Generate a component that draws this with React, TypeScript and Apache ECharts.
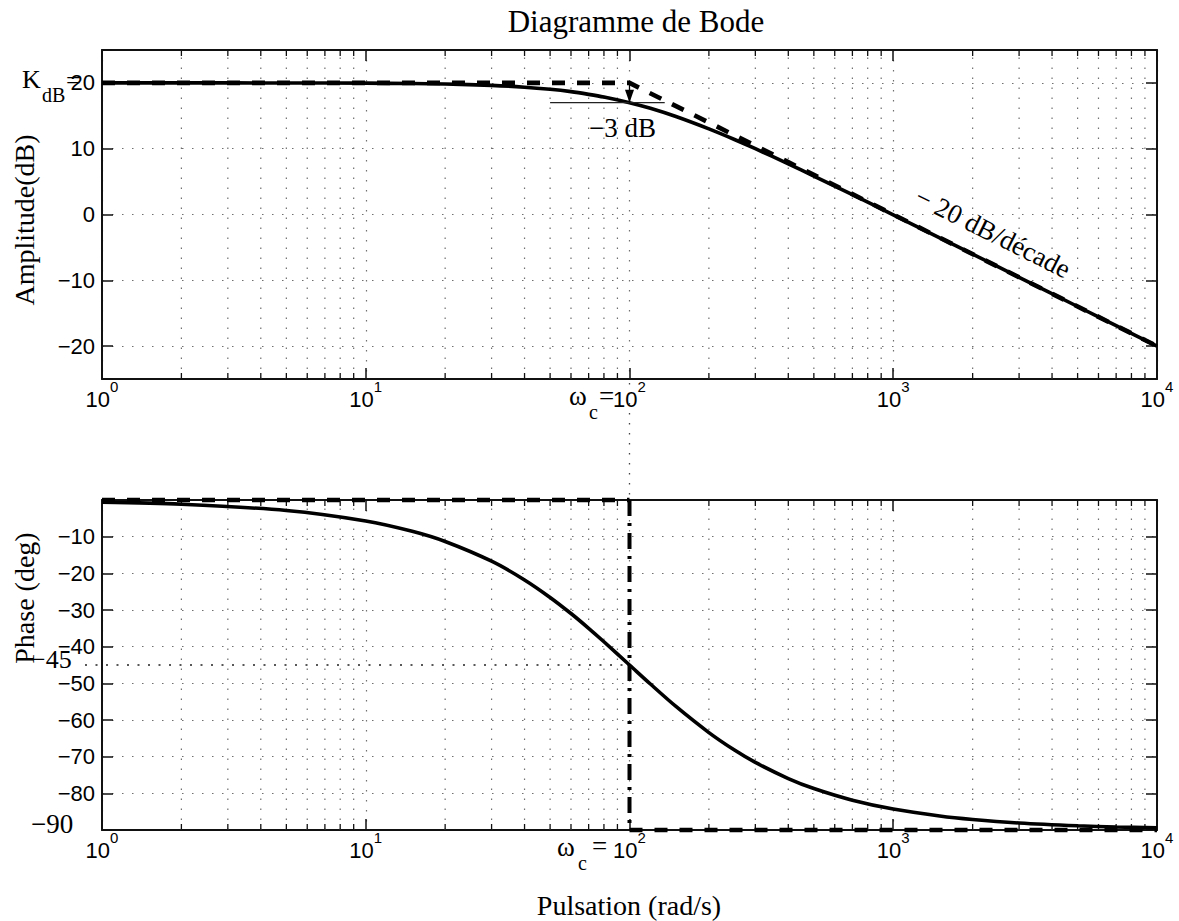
import { useEffect, useRef } from 'react';
import * as echarts from 'echarts';

// ---- data ----
const OMEGA = [1, 2, 5, 10, 15, 20, 30, 40, 50, 60, 70, 80, 100, 120, 150, 200, 250, 300, 400, 500, 700, 1000, 1500, 2000, 3000, 5000, 7000, 10000];
const AMPLITUDE_DB = [20.0, 20.0, 19.99, 19.96, 19.9, 19.83, 19.62, 19.35, 19.03, 18.67, 18.26, 17.85, 16.99, 16.14, 14.89, 13.01, 11.4, 10.0, 7.7, 5.85, 3.01, -0.04, -3.54, -6.03, -9.54, -13.98, -16.9, -20.0];
const PHASE_DEG = [-0.57, -1.15, -2.86, -5.71, -8.53, -11.31, -16.7, -21.8, -26.57, -30.96, -34.99, -38.66, -45, -50.19, -56.31, -63.43, -68.2, -71.57, -75.96, -78.69, -81.87, -84.29, -86.19, -87.14, -88.09, -88.85, -89.18, -89.43];

const AMP_ASYM_W = [1, 100, 10000];
const AMP_ASYM_DB = [20, 20, -20];
const MINUS3_W = [50, 136];
const MINUS3_DB = [17, 17];
const ARROW_W = [100, 100];
const ARROW_DB = [20, 17];

const PHASE_LOW_W = [1, 100];
const PHASE_LOW = [0, 0];
const PHASE_CUT_W = [100, 100];
const PHASE_CUT = [0, -90];
const PHASE_HIGH_W = [100, 10000];
const PHASE_HIGH = [-90, -90];

const X_TICK_EXPONENTS = ['0', '1', '2', '3', '4'];
const AMP_TICKS = [-20, -10, 0, 10, 20];
const PHASE_TICKS = [-10, -20, -30, -40, -50, -60, -70, -80];
const MINOR_W = [2, 3, 4, 5, 6, 7, 8, 9, 20, 30, 40, 50, 60, 70, 80, 90, 200, 300, 400, 500, 600, 700, 800, 900, 2000, 3000, 4000, 5000, 6000, 7000, 8000, 9000];

// ---- styling ----
const SANS = '"Liberation Sans", Arial, sans-serif';
const SERIF = '"Liberation Serif", "Times New Roman", serif';
const GRID_COLOR = '#707070';
const AXIS_COLOR = '#111';

const pairs = (xs: number[], ys: number[]) => xs.map((x, i) => [x, ys[i]]);
const fmtNum = (v: number) => (v < 0 ? '\u2212' + Math.abs(v) : String(v));

function xAxis(gridIndex: number, position: 'top' | 'bottom', main: boolean) {
  return {
    type: 'log',
    logBase: 10,
    min: 1,
    max: 10000,
    gridIndex,
    position,
    axisLine: { show: true, onZero: false, lineStyle: { color: AXIS_COLOR, width: 2 } },
    axisTick: { show: true, inside: true, length: 11, lineStyle: { color: AXIS_COLOR, width: 1.5 } },
    axisLabel: main
      ? {
          show: true,
          margin: 7,
          hideOverlap: false,
          formatter: (v: number) => {
            const e = Math.round(Math.log10(v));
            const s = X_TICK_EXPONENTS[e];
            return s === undefined ? '' : '{b|10}{e|' + s + '}';
          },
          rich: {
            b: { fontFamily: SANS, fontSize: 22, color: '#000', lineHeight: 24, verticalAlign: 'bottom' },
            e: { fontFamily: SANS, fontSize: 15, color: '#000', lineHeight: 15, padding: [0, 0, 16, 0], verticalAlign: 'bottom' },
          },
        }
      : { show: false },
    splitLine: main ? { show: true, lineStyle: { color: GRID_COLOR, width: 1.2, type: [1.5, 8.5] } } : { show: false },
    minorTick: { show: false },
    minorSplitLine: { show: false },
  };
}

function yAxis(gridIndex: number, position: 'left' | 'right', main: boolean, range: any, ticks: number[]) {
  return {
    type: 'value',
    gridIndex,
    position,
    ...range,
    axisLine: { show: true, onZero: false, lineStyle: { color: AXIS_COLOR, width: 2 } },
    axisTick: { show: true, inside: true, length: 11, lineStyle: { color: AXIS_COLOR, width: 1.5 } },
    axisLabel: main
      ? {
          show: true,
          margin: 7,
          hideOverlap: false,
          fontFamily: SANS,
          fontSize: 22,
          color: '#000',
          showMinLabel: true,
          showMaxLabel: true,
          formatter: (v: number) => (ticks.indexOf(v) >= 0 ? fmtNum(v) : ''),
        }
      : { show: false },
    splitLine: main ? { show: true, lineStyle: { color: GRID_COLOR, width: 1.2, type: [1.5, 8.5] } } : { show: false },
  };
}

function minorSeries(g: number, yMin: number, yMax: number) {
  return {
    type: 'custom',
    xAxisIndex: g * 2,
    yAxisIndex: g * 2,
    silent: true,
    z: 1,
    data: MINOR_W.map((w) => [w, yMin]),
    renderItem: (_p: any, api: any) => {
      const w = api.value(0);
      const b = api.coord([w, yMin]);
      const t = api.coord([w, yMax]);
      return {
        type: 'group',
        children: [
          { type: 'line', shape: { x1: b[0], y1: b[1], x2: t[0], y2: t[1] }, style: { stroke: GRID_COLOR, lineWidth: 1.2, lineDash: [1.5, 8.5] } },
          { type: 'line', shape: { x1: b[0], y1: b[1], x2: b[0], y2: b[1] - 6 }, style: { stroke: AXIS_COLOR, lineWidth: 1.3 } },
          { type: 'line', shape: { x1: t[0], y1: t[1], x2: t[0], y2: t[1] + 6 }, style: { stroke: AXIS_COLOR, lineWidth: 1.3 } },
        ],
      };
    },
  };
}

function lineSeries(g: number, data: number[][], style: any, extra: any = {}) {
  return {
    type: 'line',
    xAxisIndex: g * 2,
    yAxisIndex: g * 2,
    data,
    showSymbol: false,
    symbol: 'none',
    silent: true,
    clip: false,
    lineStyle: style,
    z: 3,
    ...extra,
  };
}

function buildOption() {
  return {
    animation: false,
    backgroundColor: '#fff',
    grid: [
      { left: 102, top: 50, width: 1055, height: 329, outerBoundsMode: 'none', containLabel: false },
      { left: 102, top: 500, width: 1055, height: 330, outerBoundsMode: 'none', containLabel: false },
    ],
    xAxis: [xAxis(0, 'bottom', true), xAxis(0, 'top', false), xAxis(1, 'bottom', true), xAxis(1, 'top', false)],
    yAxis: [
      yAxis(0, 'left', true, { min: -25, max: 25, splitNumber: 5 }, AMP_TICKS),
      yAxis(0, 'right', false, { min: -25, max: 25, splitNumber: 5 }, AMP_TICKS),
      yAxis(1, 'left', true, { min: -90, max: 0, interval: 10 }, PHASE_TICKS),
      yAxis(1, 'right', false, { min: -90, max: 0, interval: 10 }, PHASE_TICKS),
    ],
    series: [
      minorSeries(0, -25, 25),
      minorSeries(1, -90, 0),
      lineSeries(0, pairs(OMEGA, AMPLITUDE_DB), { color: '#000', width: 3.6 }, { smooth: 0.3 }),
      lineSeries(0, pairs(AMP_ASYM_W, AMP_ASYM_DB), { color: '#000', width: 4.6, type: [13, 12] }, { z: 4 }),
      lineSeries(0, pairs(MINUS3_W, MINUS3_DB), { color: '#222', width: 1.3 }),
      lineSeries(0, pairs(ARROW_W, ARROW_DB), { color: '#000', width: 1.3 }),
      lineSeries(1, pairs(OMEGA, PHASE_DEG), { color: '#000', width: 3.6 }, { smooth: 0.3 }),
      lineSeries(1, pairs(PHASE_LOW_W, PHASE_LOW), { color: '#000', width: 4.6, type: [13, 12] }, { z: 4 }),
      lineSeries(1, pairs(PHASE_CUT_W, PHASE_CUT), { color: '#000', width: 4, type: [16, 7, 3, 7] }, { z: 4 }),
      lineSeries(1, pairs(PHASE_HIGH_W, PHASE_HIGH), { color: '#000', width: 4.6, type: [13, 12] }, { z: 4 }),
    ],
  };
}

function txt(text: string, x: number, y: number, size: number, extra: any = {}, align = 'left') {
  return {
    type: 'text',
    x,
    y,
    silent: true,
    z: 10,
    ...extra,
    style: { text, fill: '#000', font: `${size}px ${SERIF}`, align, verticalAlign: 'middle' },
  };
}

export default function App() {
  const ref = useRef<HTMLDivElement>(null);
  useEffect(() => {
    const el = ref.current;
    if (!el) return;
    const chart = echarts.init(el, null, { renderer: 'svg', width: 1179, height: 921 });
    chart.setOption(buildOption() as any);

    const px = (g: number, x: number, y: number) =>
      chart.convertToPixel({ xAxisIndex: g * 2, yAxisIndex: g * 2 } as any, [x, y]) as number[];

    const conA = px(0, 100, -25);
    const conB = px(1, 100, 0);
    const m45a = px(1, 1, -45);
    const m45b = px(1, 100, -45);
    const s0 = px(0, 100, 20);
    const s1 = px(0, 10000, -20);
    const tip = px(0, ARROW_W[1], ARROW_DB[1]);
    const ang = Math.atan2(s1[1] - s0[1], s1[0] - s0[0]);
    const f = 0.665;
    const anchor = [s0[0] + (s1[0] - s0[0]) * f, s0[1] + (s1[1] - s0[1]) * f];
    const off = 28;
    const slopeC = [anchor[0] + off * Math.sin(ang), anchor[1] - off * Math.cos(ang)];

    chart.setOption({
      graphic: {
        elements: [
          {
            type: 'line',
            silent: true,
            shape: { x1: conA[0], y1: conA[1] + 4, x2: conB[0], y2: conB[1] },
            style: { stroke: '#444', lineWidth: 1.3, lineDash: [1.5, 8.5] },
          },
          {
            type: 'line',
            silent: true,
            shape: { x1: m45a[0] - 17, y1: m45a[1], x2: m45b[0], y2: m45b[1] },
            style: { stroke: '#222', lineWidth: 1.6, lineDash: [2, 8.5] },
          },
          {
            type: 'polygon',
            silent: true,
            z: 6,
            shape: { points: [[tip[0], tip[1]], [tip[0] - 4.5, tip[1] - 13], [tip[0] + 4.5, tip[1] - 13]] },
            style: { fill: '#000' },
          },
          txt('Diagramme de Bode', 636, 21, 31, {}, 'center'),
          txt('Amplitude(dB)', 24, 220, 28, { rotation: Math.PI / 2 }, 'center'),
          txt('Phase (deg)', 24, 598, 28, { rotation: Math.PI / 2 }, 'center'),
          txt('Pulsation (rad/s)', 629, 905, 28, {}, 'center'),
          txt('K', 22, 79, 26),
          txt('dB', 42, 95, 20),
          txt('=', 66, 80, 26),
          txt('\u22123 dB', 589, 128, 27),
          txt('\u2212 20 dB/d\u00e9cade', slopeC[0], slopeC[1], 27, { rotation: -ang }, 'center'),
          txt('\u221245', 31, 659, 26),
          txt('\u221290', 31, 824, 27),
          txt('\u03c9', 569, 396, 27),
          txt('c', 589, 412, 20),
          txt('=', 599, 396, 27),
          txt('\u03c9', 557, 847, 27),
          txt('c', 578, 863, 20),
          txt('=', 592, 846, 27),
        ],
      },
    } as any);

    return () => chart.dispose();
  }, []);
  return (
    <div
      ref={ref}
      style={{ position: 'fixed', left: 0, top: 0, width: 1179, height: 921, background: '#fff' }}
    />
  );
}
